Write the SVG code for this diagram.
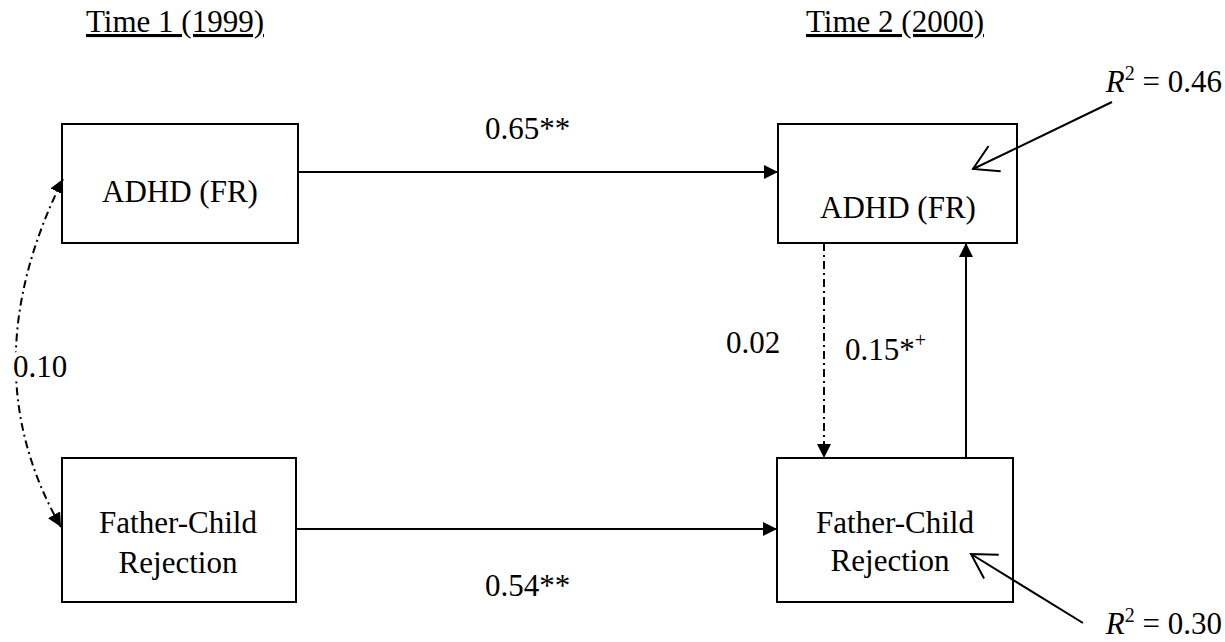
<svg xmlns="http://www.w3.org/2000/svg" width="1225" height="642" viewBox="0 0 1225 642">
<style>
text{font-family:"Liberation Serif","Times New Roman","DejaVu Serif",serif;font-size:31px;fill:#000}
.box{fill:#fff;stroke:#000;stroke-width:2}
.ln{fill:none;stroke:#000;stroke-width:2}
.dd{fill:none;stroke:#000;stroke-width:2;stroke-dasharray:8 4 2 4}
.sup{font-size:20px}
</style>
<defs>
<marker id="ah" viewBox="0 0 14 14" refX="14" refY="7" markerWidth="14" markerHeight="14" orient="auto-start-reverse" markerUnits="userSpaceOnUse"><path d="M0,0 L14,7 L0,14 Z" fill="#000"/></marker>
<marker id="oa" viewBox="-2 -2 28 32" refX="24" refY="14" markerWidth="28" markerHeight="32" orient="auto" markerUnits="userSpaceOnUse"><path d="M0,0 L24,14 L0,28" fill="none" stroke="#000" stroke-width="2"/></marker>
</defs>
<text x="86" y="32" text-decoration="underline">Time 1 (1999)</text>
<text x="806" y="32" text-decoration="underline">Time 2 (2000)</text>
<g id="n1"><rect class="box" x="62" y="124" width="236" height="119"/><text x="180" y="202" text-anchor="middle">ADHD (FR)</text></g>
<g id="n2"><rect class="box" x="778" y="124" width="239" height="119"/><text x="898" y="218" text-anchor="middle">ADHD (FR)</text></g>
<g id="n3"><rect class="box" x="62" y="458" width="234" height="144"/><text x="178" y="533" text-anchor="middle">Father-Child</text><text x="178" y="573" text-anchor="middle">Rejection</text></g>
<g id="n4"><rect class="box" x="777" y="458" width="236" height="144"/><text x="895" y="533" text-anchor="middle">Father-Child</text><text x="890" y="571" text-anchor="middle">Rejection</text></g>
<g id="edges">
<line class="ln" x1="298" y1="172" x2="778" y2="172" marker-end="url(#ah)"/>
<line class="ln" x1="296" y1="529" x2="777" y2="529" marker-end="url(#ah)"/>
<line class="dd" x1="824" y1="243" x2="824" y2="458" marker-end="url(#ah)"/>
<line class="ln" x1="966" y1="458" x2="966" y2="243" marker-end="url(#ah)"/>
<path class="dd" d="M63,179 Q-30.5,367.5 61,527" marker-start="url(#ah)" marker-end="url(#ah)"/>
<line class="ln" x1="1112" y1="102" x2="973" y2="169" marker-end="url(#oa)"/>
<line class="ln" x1="1083" y1="623" x2="971" y2="554" marker-end="url(#oa)"/>
</g>
<text x="845" y="360">0.15*<tspan class="sup" dy="-13">+</tspan></text>
<text x="485" y="139">0.65**</text>
<text x="485" y="596">0.54**</text>
<text x="726" y="353">0.02</text>
<text x="13" y="377" fill="#fff" stroke="#fff" stroke-width="10">0.10</text>
<text x="13" y="377">0.10</text>
<text x="1222" y="92" text-anchor="end"><tspan font-style="italic">R</tspan><tspan class="sup" dy="-12">2</tspan><tspan dy="12"> = 0.46</tspan></text>
<text x="1222" y="634" text-anchor="end"><tspan font-style="italic">R</tspan><tspan class="sup" dy="-12">2</tspan><tspan dy="12"> = 0.30</tspan></text>
</svg>
